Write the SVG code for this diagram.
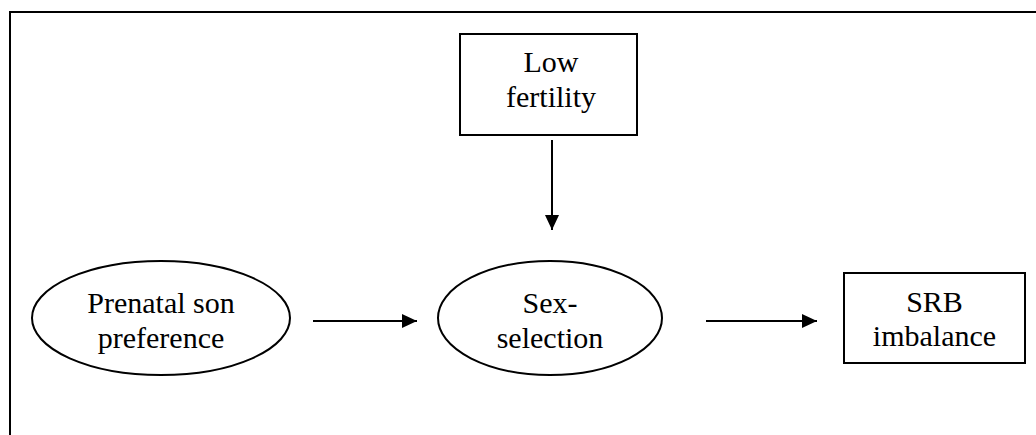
<svg xmlns="http://www.w3.org/2000/svg" width="1036" height="435" viewBox="0 0 1036 435">
<style>
.shape{fill:#fff;stroke:#000;stroke-width:2}
.t{font-family:"Liberation Serif","Times New Roman",serif;font-size:30px;fill:#000;text-anchor:middle}
.c{stroke:#000;stroke-width:2;fill:none;marker-end:url(#ah)}
</style>
<defs>
<marker id="ah" markerWidth="16" markerHeight="14" refX="15" refY="7" orient="auto" markerUnits="userSpaceOnUse">
<path d="M0,0 L15,7 L0,14 Z" fill="#000"/>
</marker>
</defs>
<rect width="1036" height="435" fill="#fff"/>
<rect x="10" y="12" width="1040" height="440" fill="none" stroke="#000" stroke-width="2"/>
<g id="connectors">
<line class="c" x1="552" y1="140" x2="552" y2="230"/>
<line class="c" x1="313" y1="321" x2="417" y2="321"/>
<line class="c" x1="706" y1="321" x2="817" y2="321"/>
</g>
<g id="low-fertility">
<rect class="shape" x="460" y="34" width="177" height="101"/>
<text class="t" x="551" y="72">Low</text>
<text class="t" x="551" y="107">fertility</text>
</g>
<g id="prenatal">
<ellipse class="shape" cx="161" cy="318" rx="129" ry="57"/>
<text class="t" x="161" y="313">Prenatal son</text>
<text class="t" x="161" y="348">preference</text>
</g>
<g id="sex-selection">
<ellipse class="shape" cx="550" cy="318" rx="112" ry="57"/>
<text class="t" x="550" y="313">Sex-</text>
<text class="t" x="550" y="348">selection</text>
</g>
<g id="srb">
<rect class="shape" x="844" y="273" width="181" height="90"/>
<text class="t" x="934.5" y="312">SRB</text>
<text class="t" x="934.5" y="346">imbalance</text>
</g>
</svg>
